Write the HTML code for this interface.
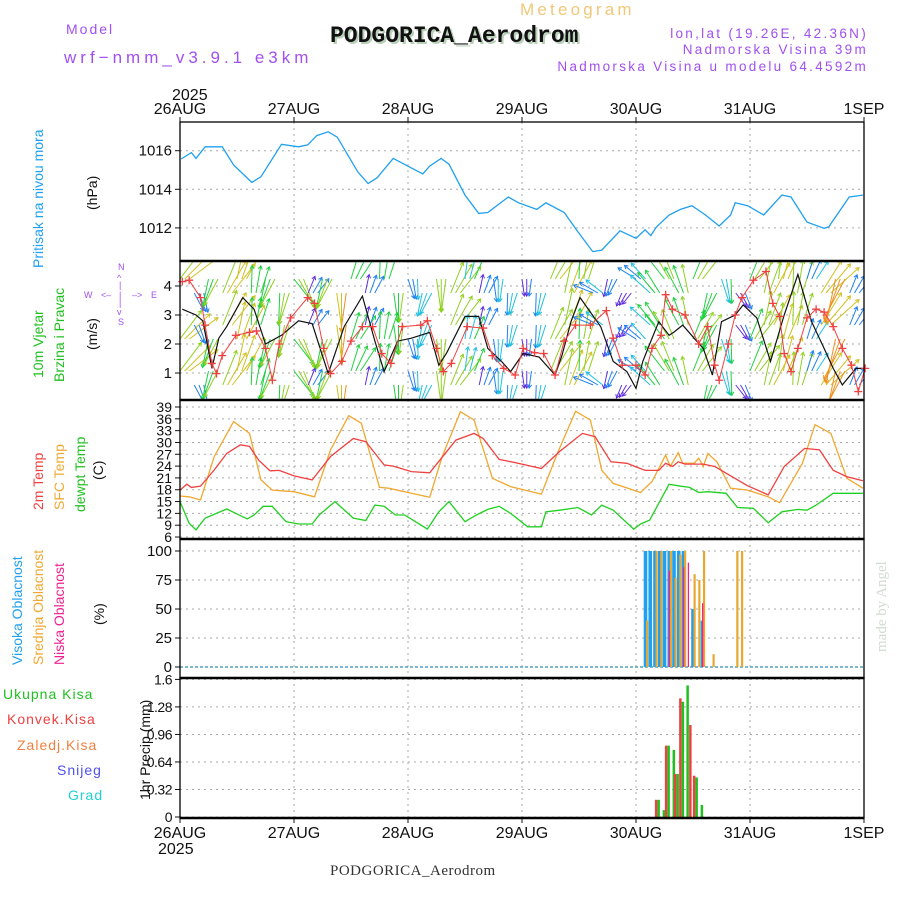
<!DOCTYPE html>
<html><head><meta charset="utf-8"><style>
body{margin:0;background:#fff;}
svg{display:block;font-family:"Liberation Sans",sans-serif;}
</style></head><body>
<svg id="chart" width="900" height="900" viewBox="0 0 900 900" xmlns="http://www.w3.org/2000/svg">
<defs><clipPath id="cw"><rect x="180" y="262" width="684" height="138"/></clipPath></defs>
<rect width="900" height="900" fill="#fff"/>
<!-- header -->
<text x="520" y="15" font-size="17" fill="#f0c878" letter-spacing="3.2">Meteogram</text>
<text x="332" y="44" font-family="Liberation Mono,monospace" font-weight="bold" font-size="23" fill="#b8d0b8">PODGORICA_Aerodrom</text>
<text x="330" y="42" font-family="Liberation Mono,monospace" font-weight="bold" font-size="23" fill="#111">PODGORICA_Aerodrom</text>
<text x="66" y="34" font-size="14" fill="#a050f0" letter-spacing="2">Model</text>
<text x="64" y="63" font-size="17" fill="#a050f0" letter-spacing="4">wrf−nmm_v3.9.1 e3km</text>
<g font-size="13.5" fill="#a050f0" text-anchor="end" letter-spacing="2.3">
<text x="868" y="38">lon,lat (19.26E, 42.36N)</text>
<text x="868" y="54">Nadmorska Visina 39m</text>
<text x="868" y="71">Nadmorska Visina u modelu 64.4592m</text>
</g>
<text x="172" y="100" font-size="16" fill="#111">2025</text>
<text x="158" y="854" font-size="16" fill="#111">2025</text>
<text x="330" y="875" font-family="Liberation Serif,serif" font-size="15" fill="#333" letter-spacing="0.5">PODGORICA_Aerodrom</text>
<text transform="translate(886,652) rotate(-90)" font-family="Liberation Serif,serif" font-size="15" fill="#d0dcd0">made by Angel</text>
<!-- left labels -->
<g font-size="14">
<text transform="translate(43,268) rotate(-90)" fill="#20a0f0">Pritisak na nivou mora</text>
<text transform="translate(97,210) rotate(-90)" fill="#111">(hPa)</text>
<text transform="translate(43,378) rotate(-90)" fill="#20c020">10m Vjetar</text>
<text transform="translate(64,382) rotate(-90)" fill="#20c020">Brzina i Pravac</text>
<text transform="translate(97,350) rotate(-90)" fill="#111">(m/s)</text>
<text transform="translate(43,510) rotate(-90)" fill="#f04040">2m Temp</text>
<text transform="translate(64,510) rotate(-90)" fill="#f0a830">SFC Temp</text>
<text transform="translate(85,512) rotate(-90)" fill="#20c020">dewpt Temp</text>
<text transform="translate(103,480) rotate(-90)" fill="#111">(C)</text>
<text transform="translate(22,665) rotate(-90)" fill="#20a0f0">Visoka Oblacnost</text>
<text transform="translate(43,665) rotate(-90)" fill="#f0a830">Srednja Oblacnost</text>
<text transform="translate(64,665) rotate(-90)" fill="#f02090">Niska Oblacnost</text>
<text transform="translate(104,625) rotate(-90)" fill="#111">(%)</text>
<text transform="translate(150,800) rotate(-90)" fill="#111">1hr Precip (mm)</text>
<text x="3" y="699" fill="#20c020" letter-spacing="1">Ukupna Kisa</text>
<text x="7" y="724" fill="#f04040" letter-spacing="1">Konvek.Kisa</text>
<text x="17" y="750" fill="#f08040" letter-spacing="1">Zaledj.Kisa</text>
<text x="57" y="775" fill="#5050f0" letter-spacing="1">Snijeg</text>
<text x="68" y="800" fill="#20d0d0" letter-spacing="1">Grad</text>
</g>
<g fill="#a050f0" font-size="9" stroke="none">
<text x="118" y="270">N</text><text x="84" y="298">W</text><text x="151" y="298">E</text><text x="118" y="325">S</text>
<text x="101" y="298">&lt;–</text><text x="119" y="298">|</text><text x="132" y="298">–&gt;</text>
<text x="117" y="281">^</text><text x="119" y="288">|</text><text x="119" y="306">|</text><text x="117" y="315">v</text>
</g>
<g id="plot"></g>
</svg>
<script>
// ---------- data ----------
const dayLabels = ["26AUG","27AUG","28AUG","29AUG","30AUG","31AUG","1SEP"];
const pressTicks = [1012,1014,1016];
const windTicks = [1,2,3,4];
const tempTicks = [6,9,12,15,18,21,24,27,30,33,36,39];
const cloudTicks = [0,25,50,75,100];
const precipTicks = ["0","0.32","0.64","0.96","1.28","1.6"];
// times in days
const pressT = [0.01,0.1,0.14,0.22,0.37,0.47,0.63,0.71,0.89,1.04,1.12,1.2,1.3,1.38,1.56,1.65,1.73,1.87,1.95,2.13,2.19,2.29,2.36,2.5,2.62,2.7,2.88,2.97,3.13,3.21,3.37,3.49,3.62,3.7,3.86,4.0,4.08,4.13,4.18,4.29,4.39,4.49,4.61,4.73,4.83,4.87,4.98,5.12,5.28,5.36,5.5,5.65,5.69,5.87,5.99];
const pressV = [1015.57,1015.9,1015.6,1016.2,1016.2,1015.26,1014.36,1014.65,1016.33,1016.2,1016.3,1016.78,1016.98,1016.7,1014.9,1014.3,1014.6,1015.6,1015.35,1014.8,1015.2,1015.6,1015.3,1013.7,1012.75,1012.8,1013.6,1013.3,1012.96,1013.3,1012.8,1011.8,1010.77,1010.85,1011.85,1011.46,1011.9,1011.6,1012.05,1012.67,1012.96,1013.15,1012.67,1012.1,1012.67,1013.3,1013.15,1012.67,1013.7,1013.6,1012.3,1011.98,1012.05,1013.6,1013.7];
const windT = [0.02,0.14,0.2,0.28,0.34,0.41,0.55,0.65,0.75,0.89,1.04,1.16,1.3,1.44,1.6,1.71,1.79,1.91,2.03,2.19,2.27,2.34,2.5,2.62,2.7,2.82,2.9,3.01,3.15,3.29,3.35,3.43,3.51,3.69,3.8,3.92,4.0,4.06,4.12,4.2,4.29,4.33,4.41,4.51,4.59,4.67,4.75,4.87,4.94,5.06,5.18,5.3,5.42,5.54,5.65,5.73,5.81,5.93,5.99];
const windV = [3.2,3.0,2.8,1.16,2.2,2.6,3.6,3.2,2.0,2.3,2.8,2.7,0.98,2.6,3.65,2.1,1.05,2.1,2.2,2.4,1.27,1.7,2.95,2.95,1.85,1.4,1.05,1.67,1.55,0.93,1.6,2.77,3.6,2.6,1.4,1.05,0.47,1.4,2.0,2.77,2.3,2.4,2.65,2.2,1.85,0.93,2.77,3.0,3.35,2.9,1.4,3.0,4.4,2.77,1.85,1.16,0.59,1.16,1.16];
const gustT = [0.02,0.08,0.18,0.22,0.28,0.32,0.37,0.49,0.61,0.67,0.75,0.81,0.87,0.97,1.12,1.18,1.26,1.32,1.42,1.5,1.6,1.69,1.77,1.85,1.95,2.11,2.17,2.25,2.31,2.38,2.52,2.66,2.74,2.84,2.94,3.01,3.11,3.19,3.29,3.37,3.47,3.6,3.74,3.8,3.88,4.0,4.08,4.14,4.22,4.26,4.32,4.43,4.55,4.63,4.69,4.73,4.81,4.87,4.93,5.03,5.14,5.2,5.26,5.3,5.36,5.42,5.5,5.58,5.65,5.73,5.81,5.89,5.95,6.01];
const gustV = [4.15,4.2,3.6,2.65,1.33,0.98,1.6,2.3,2.4,2.45,1.85,0.75,2.0,2.9,3.6,3.4,1.85,0.98,1.4,2.1,2.6,2.6,1.67,1.33,2.6,2.65,2.8,1.85,1.05,1.33,2.6,2.55,1.6,1.16,0.93,1.85,1.7,1.67,0.93,2.1,2.65,2.65,3.15,2.2,1.27,1.27,0.93,1.85,2.3,3.7,3.2,3.0,2.0,2.6,1.27,0.75,2.0,3.0,3.6,4.2,4.5,3.4,2.95,1.67,1.05,1.85,2.9,3.2,3.1,2.6,1.85,1.27,0.36,1.16];
// wind direction every 3h (degrees the arrow points, 0 = up/north)
const dirV = [45,160,200,30,20,10,200,190, 150,30,200,180,25,20,10,180, 170,200,180,30,15,20,180,190, 180,190,30,20,10,300,200,210, 310,320,330,340,30,200,170,150, 30,20,15,10,25,40,200,30];
const dirS = [3.2,1.2,2.4,3.4,3.5,2.2,2.5,2.8, 2.7,1.0,2.6,3.6,2.2,1.1,2.2,2.4, 1.3,1.7,2.9,2.9,1.8,1.1,1.6,1.5, 0.9,1.6,3.0,3.4,2.6,1.4,1.0,0.5, 1.4,2.1,2.7,2.4,2.6,2.2,1.8,0.9, 2.8,3.0,3.3,2.9,1.4,3.5,4.4,1.2];
// temperatures
const t2T = [0.0,0.06,0.1,0.18,0.3,0.41,0.53,0.61,0.69,0.79,0.87,1.0,1.16,1.32,1.52,1.63,1.79,1.87,2.03,2.19,2.42,2.58,2.66,2.8,2.94,3.17,3.33,3.53,3.64,3.78,3.92,4.08,4.2,4.26,4.32,4.37,4.43,4.59,4.69,4.79,4.98,5.16,5.3,5.48,5.61,5.73,5.85,5.99];
const t2V = [17.9,19.4,18.6,18.9,23.0,27.2,29.4,29.0,25.5,22.8,22.9,21.5,20.5,26.4,31.0,30.2,24.3,24.0,22.6,22.3,30.6,32.3,31.0,25.7,24.9,23.4,27.7,32.3,31.5,25.1,24.7,22.9,22.9,24.7,23.9,25.1,24.5,24.5,23.9,22.2,19.0,16.7,23.9,28.5,28.1,22.9,21.3,20.3];
const sfcT = [0.0,0.08,0.18,0.3,0.47,0.61,0.71,0.81,1.0,1.18,1.32,1.48,1.59,1.75,1.83,2.03,2.19,2.3,2.46,2.58,2.74,2.9,3.17,3.31,3.47,3.6,3.7,3.8,4.04,4.14,4.26,4.3,4.37,4.41,4.51,4.55,4.59,4.63,4.71,4.83,4.98,5.16,5.26,5.46,5.57,5.71,5.85,5.99];
const sfcV = [16.4,16.2,15.4,26.4,35.3,32.3,20.5,17.9,17.5,16.2,28.1,36.8,34.9,18.6,18.4,17.1,16.1,26.4,37.8,35.7,20.9,18.8,16.9,27.2,37.9,35.7,22.9,19.6,17.3,20.1,26.8,23.9,27.4,24.7,24.7,26.0,23.9,27.2,25.1,18.4,17.9,16.2,14.7,24.7,34.5,32.3,20.9,18.4,17.1];
const dewT = [0.0,0.08,0.14,0.22,0.41,0.49,0.59,0.65,0.73,0.81,0.93,1.04,1.16,1.22,1.36,1.52,1.63,1.71,1.79,1.89,1.97,2.17,2.27,2.36,2.5,2.6,2.7,2.8,2.9,3.05,3.17,3.21,3.33,3.49,3.61,3.7,3.8,3.98,4.04,4.12,4.29,4.37,4.47,4.55,4.63,4.79,4.89,5.03,5.16,5.28,5.42,5.5,5.58,5.73,5.99];
const dewV = [15.0,9.5,7.8,10.8,13.1,12.0,10.6,11.6,13.8,13.8,9.9,9.3,9.3,11.6,15.0,10.8,10.2,14.1,13.8,11.6,11.6,8.0,12.4,15.0,9.9,11.6,13.0,13.8,12.0,8.6,8.6,12.4,12.8,13.5,11.6,14.1,12.8,8.0,9.3,10.3,19.4,19.0,18.6,17.3,17.5,17.1,13.5,13.3,9.6,12.4,13.0,12.8,14.1,17.1,17.1];
// clouds (hours since 26AUG 00)
const highH = [98,99,100,101,102,103,104,105,106,108,110];
const highV = [100,100,100,100,100,100,100,100,100,50,40];
const midH = [98,100,101,103,104,105,106,108,109,110,112,117,118];
const midV = [40,100,100,100,77,97,100,80,75,100,11,100,100];
const lowH = [103,106,107,110];
const lowV = [83,86,90,55];
// precipitation (hours since 26AUG 00)
const rainH = [100.4,101.5,102.5,103.6,104.4,105.5,106.5,107.6,108.4,109.5];
const rainTotal = [0.2,0.08,0.83,0.78,0.5,1.34,1.53,0,0.46,0.14];
const rainConv = [0.2,0,0.83,0,0.5,1.38,0,1.07,0.48,0];

// ---------- scales ----------
const X = t => 180 + t*114;
const XH = h => 180 + h*114/24;
const yP = v => 150.7 + (1016-v)*19.3;
const yW = v => 402 - v*29;
const yT = v => 407 + (39-v)*3.94;
const yC = v => 667 - v*1.16;
const yR = v => 817 - v*86;
const NS = "http://www.w3.org/2000/svg";
const root = document.getElementById('plot');
function mk(tag, attrs, parent){const e=document.createElementNS(NS,tag);for(const k in attrs)e.setAttribute(k,attrs[k]);(parent||root).appendChild(e);return e;}
function line(ts, vs, xf, yf){return ts.map((t,i)=>(i?'L':'M')+xf(t).toFixed(1)+' '+yf(vs[i]).toFixed(1)).join(' ');}

const panels = [[122,261],[261,400],[400,539],[539,678],[678,818]];
const grid = mk('g',{stroke:'#aaa','stroke-width':1,'stroke-dasharray':'2,4'});


panels.forEach(([a,b])=>{for(let d=1;d<6;d++)mk('line',{x1:X(d),x2:X(d),y1:a,y2:b},grid);});
pressTicks.forEach(v=>mk('line',{x1:180,x2:864,y1:yP(v),y2:yP(v)},grid));
windTicks.forEach(v=>mk('line',{x1:180,x2:864,y1:yW(v),y2:yW(v)},grid));
tempTicks.forEach(v=>mk('line',{x1:180,x2:864,y1:yT(v),y2:yT(v)},grid));
cloudTicks.slice(1).forEach(v=>mk('line',{x1:180,x2:864,y1:yC(v),y2:yC(v)},grid));
precipTicks.forEach(v=>mk('line',{x1:180,x2:864,y1:yR(+v),y2:yR(+v)},grid));

const tl = mk('g',{'font-size':15,fill:'#111','text-anchor':'end'});


pressTicks.forEach(v=>{const t=mk('text',{x:172,y:yP(v)+5},tl);t.textContent=v;});
windTicks.forEach(v=>{const t=mk('text',{x:172,y:yW(v)+5},tl);t.textContent=v;});
tempTicks.forEach(v=>{const t=mk('text',{x:172,y:yT(v)+5,'font-size':14},tl);t.textContent=v;});
cloudTicks.forEach(v=>{const t=mk('text',{x:172,y:yC(v)+5},tl);t.textContent=v;});
precipTicks.forEach(v=>{const t=mk('text',{x:172,y:yR(+v)+5,'font-size':14,'letter-spacing':-0.5},tl);t.textContent=v;});
const tk = mk('g',{stroke:'#111','stroke-width':1});


[...pressTicks.map(yP),...windTicks.map(yW),...tempTicks.map(yT),...cloudTicks.map(yC),...precipTicks.map(v=>yR(+v))].forEach(y=>mk('line',{x1:175,x2:180,y1:y,y2:y},tk));
dayLabels.forEach((d,i)=>{
  mk('line',{x1:X(i),x2:X(i),y1:117,y2:122},tk);mk('line',{x1:X(i),x2:X(i),y1:818,y2:823},tk);
  const a=mk('text',{x:X(i),y:114,'font-size':16,fill:'#111','text-anchor':'middle'});a.textContent=d;
  
  
  const b=mk('text',{x:X(i),y:838,'font-size':16,fill:'#111','text-anchor':'middle'});b.textContent=d;
  
  
});

const pl = mk('path',{d:line(pressT,pressV,X,yP),fill:'none',stroke:'#20a0f0','stroke-width':1.3});



// wind arrows
const wg = mk('g',{'clip-path':'url(#cw)','stroke-width':1,fill:'none'});


function wcol(s){return s<1?'#6030e0':s<1.5?'#2080f0':s<2?'#20c0e0':s<2.6?'#20d040':s<3.2?'#90d020':s<3.8?'#d0c020':'#f09020';}
const rows=[285,331,377];
dirV.forEach((d,i)=>{
  const s=dirS[i];
  for(let k=0;k<3;k++){
    const tt=(i*3+k)/24;
    rows.forEach((r,ri)=>{
      const x0=X(tt), L=10+s*8, a=(d+(k-1)*8)*Math.PI/180;
      const rr=r+((i+ri)%2?8:-6);
      const x1=x0+L*Math.sin(a), y1=rr-L*Math.cos(a);
      const c=wcol(s+(k-1)*0.2);
      mk('line',{x1:x0,y1:rr,x2:x1,y2:y1,stroke:c},wg);
      const h1=a+2.6,h2=a-2.6;
      mk('path',{d:`M${x1+4*Math.sin(h1)} ${y1-4*Math.cos(h1)} L${x1} ${y1} L${x1+4*Math.sin(h2)} ${y1-4*Math.cos(h2)}`,stroke:c},wg);
    });
  }
});
const wl = mk('path',{d:line(windT,windV,X,yW),fill:'none',stroke:'#111','stroke-width':1.2});


const gl = mk('path',{d:line(gustT,gustV,X,yW),fill:'none',stroke:'#f04040','stroke-width':1});


const gm = mk('g',{stroke:'#f04040','stroke-width':1.3});


gustT.forEach((t,i)=>{const x=X(t),y=yW(gustV[i]);mk('path',{d:`M${x-4} ${y}H${x+4}M${x} ${y-4}V${y+4}`},gm);});

[[sfcT,sfcV,'#f0a830','sfc-temp-line'],[t2T,t2V,'#f04040','temp-2m-line'],[dewT,dewV,'#20d020','dewpoint-line']].forEach(([ts,vs,c,n])=>{
  const p=mk('path',{d:line(ts,vs,X,yT),fill:'none',stroke:c,'stroke-width':1.3});
  
  
});

const cz = mk('line',{x1:180,x2:864,y1:yC(0),y2:yC(0),stroke:'#50a0c0','stroke-width':1.5,'stroke-dasharray':'3,2'});


highH.forEach((h,i)=>{const r=mk('rect',{x:XH(h)-1.8,y:yC(highV[i]),width:3.6,height:yC(0)-yC(highV[i]),fill:'#20a0f0'});
  
  });
midH.forEach((h,i)=>{const r=mk('rect',{x:XH(h)+0.5,y:yC(midV[i]),width:2.2,height:yC(0)-yC(midV[i]),fill:'#e8a830'});
  
  });
lowH.forEach((h,i)=>{const r=mk('rect',{x:XH(h)-0.5,y:yC(lowV[i]),width:1.3,height:yC(0)-yC(lowV[i]),fill:'#f02090'});
  
  });

rainH.forEach((h,i)=>{
  if(rainConv[i]>0){const r=mk('rect',{x:XH(h)-2,y:yR(rainConv[i]),width:2.5,height:yR(0)-yR(rainConv[i]),fill:'#f04040'});
    
    }
  if(rainTotal[i]>0){const r=mk('rect',{x:XH(h)+0.5,y:yR(rainTotal[i]),width:2.5,height:yR(0)-yR(rainTotal[i]),fill:'#20c020'});
    
    }
});

const fr = mk('g',{fill:'none',stroke:'#000'});


panels.forEach(([a,b])=>mk('rect',{x:180,y:a,width:684,height:b-a,'stroke-width':1.3},fr));
[261,400,539,678,818].forEach(y=>mk('line',{x1:180,x2:864,y1:y,y2:y,'stroke-width':2.5},fr));
</script>
</body></html>
